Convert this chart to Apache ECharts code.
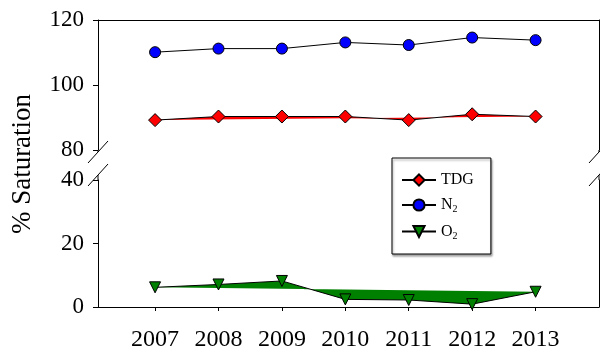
<!DOCTYPE html>
<html>
<head>
<meta charset="utf-8">
<script src="https://cdn.jsdelivr.net/npm/echarts@6/dist/echarts.min.js"></script>
<style>
  html, body { margin: 0; padding: 0; background: #fff; }
  #chart { width: 600px; height: 355px; }
</style>
</head>
<body>
<div id="chart"></div>
<script>
// Yearly gas saturation (%), split y axis: 80-120 above, 0-40 below
const years = [2007, 2008, 2009, 2010, 2011, 2012, 2013];
const tdg = [89.2, 90.3, 90.3, 90.3, 89.2, 91.0, 90.3];
const n2  = [110.1, 111.2, 111.2, 113.1, 112.3, 114.6, 113.8];
const o2  = [6.2, 7.1, 8.2, 2.4, 2.2, 0.9, 4.8];
const upperTicks = [80, 100, 120];
const lowerTicks = [0, 20, 40];

const FONT = '"Liberation Serif", "DejaVu Serif", serif';
const xMin = 2006.1, xMax = 2014;

const pairs = vals => years.map((y, i) => [y, vals[i]]);

// closed polygon through all points of a series (filled band under the line)
function fillSeries(name, vals, color, xi, yi) {
  return {
    name: name,
    type: 'custom',
    xAxisIndex: xi,
    yAxisIndex: yi,
    z: 1,
    silent: true,
    data: pairs(vals),
    encode: { x: 0, y: 1 },
    renderItem: function (params, api) {
      if (params.dataIndex !== 0) return null;
      const pts = years.map((y, i) => api.coord([y, vals[i]]));
      return { type: 'polygon', shape: { points: pts }, style: { fill: color } };
    }
  };
}

function lineSeries(name, vals, symbol, size, color, xi, yi, rotate) {
  return {
    name: name,
    type: 'line',
    xAxisIndex: xi,
    yAxisIndex: yi,
    z: 3,
    data: pairs(vals),
    symbol: symbol,
    symbolSize: size,
    symbolRotate: rotate || 0,
    showAllSymbol: true,
    lineStyle: { color: '#000', width: 1 },
    itemStyle: { color: color, borderColor: '#000', borderWidth: 1 }
  };
}

const axisLine = { show: true, onZero: false, lineStyle: { color: '#000', width: 1 } };

const chart = echarts.init(document.getElementById('chart'), null, { renderer: 'canvas' });

chart.setOption({
  animation: false,
  backgroundColor: '#fff',
  grid: [
    { left: 98, top: 20, width: 501, height: 130 },
    { left: 98, top: 180, width: 501, height: 127 }
  ],
  xAxis: [
    { gridIndex: 0, type: 'value', min: xMin, max: xMax, position: 'top',
      axisLine: axisLine, axisTick: { show: false }, axisLabel: { show: false },
      splitLine: { show: false } },
    { gridIndex: 1, type: 'value', min: xMin, max: xMax, position: 'bottom',
      axisLine: axisLine,
      axisTick: { show: true, length: 4, customValues: years, lineStyle: { color: '#000' } },
      axisLabel: { customValues: years, formatter: v => String(v),
        color: '#000', fontFamily: FONT, fontSize: 24, margin: 21 },
      splitLine: { show: false } }
  ],
  yAxis: [
    { gridIndex: 0, type: 'value', min: 80, max: 120, interval: 20, position: 'left',
      axisLine: axisLine,
      axisTick: { show: true, length: 5, customValues: upperTicks, lineStyle: { color: '#000' } },
      axisLabel: { customValues: upperTicks, color: '#000', fontFamily: FONT, fontSize: 23, margin: 14 },
      splitLine: { show: false } },
    { gridIndex: 0, type: 'value', min: 80, max: 120, position: 'right',
      axisLine: axisLine, axisTick: { show: false }, axisLabel: { show: false },
      splitLine: { show: false } },
    { gridIndex: 1, type: 'value', min: 0, max: 40, interval: 20, position: 'left',
      axisLine: axisLine,
      axisTick: { show: true, length: 5, customValues: lowerTicks, lineStyle: { color: '#000' } },
      axisLabel: { customValues: lowerTicks, color: '#000', fontFamily: FONT, fontSize: 23, margin: 14 },
      splitLine: { show: false } },
    { gridIndex: 1, type: 'value', min: 0, max: 40, position: 'right',
      axisLine: axisLine, axisTick: { show: false }, axisLabel: { show: false },
      splitLine: { show: false } }
  ],
  legend: {
    orient: 'vertical',
    left: 392,
    top: 158,
    padding: [14, 17, 13, 9],
    itemGap: 9,
    itemWidth: 34,
    itemHeight: 14,
    backgroundColor: '#fff',
    borderColor: '#000',
    borderWidth: 1,
    borderRadius: 0,
    shadowColor: 'rgba(0,0,0,0.35)',
    shadowBlur: 2,
    shadowOffsetX: 1,
    shadowOffsetY: 2,
    data: ['TDG', 'N2', 'O2'],
    formatter: function (name) {
      if (name === 'N2') return 'N{sub|2}';
      if (name === 'O2') return 'O{sub|2}';
      return name;
    },
    textStyle: {
      color: '#000', fontFamily: FONT, fontSize: 16,
      rich: { sub: { fontFamily: FONT, fontSize: 10, color: '#000', padding: [9, 0, 0, 0] } }
    }
  },
  graphic: [],
  series: [
    fillSeries('TDG band', tdg, '#ff0000', 0, 0),
    fillSeries('O2 band', o2, '#008000', 1, 2),
    lineSeries('TDG', tdg, 'diamond', 13, '#ff0000', 0, 0),
    lineSeries('N2', n2, 'circle', 11, '#0000ff', 0, 0),
    lineSeries('O2', o2, 'triangle', 11, '#008000', 1, 2, 180)
  ]
});

// axis break marks and the shared y title, placed from the axis scales
const xl = chart.convertToPixel({ xAxisIndex: 0 }, xMin);
const xr = chart.convertToPixel({ xAxisIndex: 0 }, xMax);
const yTopBottom = chart.convertToPixel({ yAxisIndex: 0 }, 80);
const yLowTop = chart.convertToPixel({ yAxisIndex: 2 }, 40);
const yA = yTopBottom + 2, yB = yLowTop - 5;

const lineStyle = { stroke: '#000', lineWidth: 1 };
const seg = (x1, y1, x2, y2) => ({ type: 'line', silent: true, z: 10,
  shape: { x1: x1, y1: y1, x2: x2, y2: y2 }, style: lineStyle });

chart.setOption({
  graphic: [
    seg(xl, yTopBottom, xl, yA),
    seg(xl, yLowTop, xl, yB),
    seg(xl - 10, yA + 11, xl + 10, yA - 11),
    seg(xl - 10, yB + 11, xl + 10, yB - 11),
    seg(xr, yTopBottom, xr, yA),
    seg(xr, yLowTop, xr, yB),
    seg(xr - 10, yA + 11, xr + 10, yA - 11),
    seg(xr - 10, yB + 11, xr + 10, yB - 11),
    {
      type: 'text', silent: true,
      x: 23, y: 164, rotation: Math.PI / 2,
      style: {
        text: '% Saturation', fill: '#000', font: '27px ' + FONT,
        align: 'center', verticalAlign: 'middle'
      }
    }
  ]
});
</script>
</body>
</html>
